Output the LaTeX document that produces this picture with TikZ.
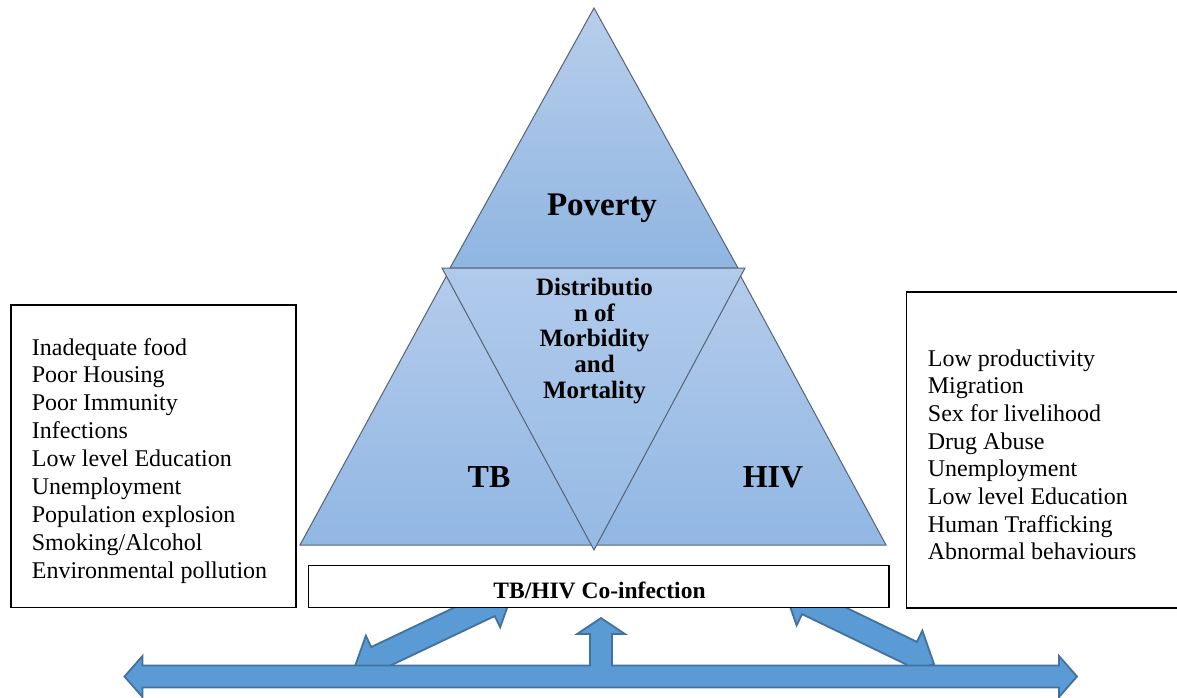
\documentclass[tikz,border=0pt]{standalone}
\usepackage{fontspec}
\setmainfont{Liberation Serif}
\usetikzlibrary{calc}
\definecolor{arrowfill}{RGB}{91,155,213}
\definecolor{arrowline}{RGB}{65,113,156}
\definecolor{triline}{RGB}{85,98,118}
\definecolor{povtop}{RGB}{184,206,235}
\definecolor{povbot}{RGB}{143,181,225}
\definecolor{sidetop}{RGB}{180,203,235}
\definecolor{sidebot}{RGB}{145,183,227}
\definecolor{midtop}{RGB}{176,202,235}
\definecolor{midbot}{RGB}{150,186,228}
\tikzset{
  tri/.style={draw=triline, line width=1pt, line join=miter},
  listbox/.style={draw=black, fill=white, line width=1.5pt},
  listtext/.style={anchor=base west, inner sep=0pt, font=\fontsize{24}{28}\selectfont},
  bigbold/.style={anchor=base, inner sep=0pt, font=\fontsize{32}{36}\selectfont\bfseries},
  midtext/.style={anchor=base, inner sep=0pt, font=\fontsize{25}{26}\selectfont\bfseries},
  blockarrowstyle/.style={draw=arrowline, fill=arrowfill, line width=1.8pt, line join=miter}
}
% double-headed block arrow between two named coordinates
\newcommand\blockarrow[2]{%
  \coordinate (#1-a) at ($(#1)!25pt!(#2)$);
  \coordinate (#1-b) at ($(#2)!25pt!(#1)$);
  \draw[blockarrowstyle]
    (#1) -- ($(#1-a)!25pt!90:(#2)$) -- ($(#1-a)!12.5pt!90:(#2)$)
    -- ($(#1-b)!12.5pt!-90:(#1)$) -- ($(#1-b)!25pt!-90:(#1)$) -- (#2)
    -- ($(#1-b)!25pt!90:(#1)$) -- ($(#1-b)!12.5pt!90:(#1)$)
    -- ($(#1-a)!12.5pt!-90:(#2)$) -- ($(#1-a)!25pt!-90:(#2)$) -- cycle;
}
\begin{document}
\begin{tikzpicture}[x=1pt, y=-1pt]
\useasboundingbox (0,0) rectangle (1177,697);

% ---- triangles ----
\coordinate (apex) at (594,8);
\coordinate (povL) at (450,268);
\coordinate (povR) at (738,268);
\coordinate (tbA) at (447,275);
\coordinate (tbL) at (300,545);
\coordinate (tbR) at (594,545);
\coordinate (hivA) at (740,275);
\coordinate (hivL) at (594,545);
\coordinate (hivR) at (886,545);
\coordinate (midL) at (442,268);
\coordinate (midR) at (745,268);
\coordinate (midB) at (594,550);

\path[tri, top color=povtop, bottom color=povbot] (apex) -- (povR) -- (povL) -- cycle;
\path[tri, top color=sidetop, bottom color=sidebot] (tbA) -- (tbR) -- (tbL) -- cycle;
\path[tri, top color=sidetop, bottom color=sidebot] (hivA) -- (hivR) -- (hivL) -- cycle;
\path[tri, top color=midtop, bottom color=midbot] (midL) -- (midR) -- (midB) -- cycle;

\node[bigbold, font=\fontsize{33}{36}\selectfont\bfseries] (poverty) at (602,215) {Poverty};
\node[bigbold] (tb) at (489,487.5) {TB};
\node[bigbold] (hiv) at (773,487.5) {HIV};

\node[midtext] (m1) at (594.5,295.7) {Distributio};
\node[midtext] (m2) at (594.5,321.3) {n of};
\node[midtext] (m3) at (594.5,346.9) {Morbidity};
\node[midtext] (m4) at (594.5,372.5) {and};
\node[midtext] (m5) at (594.5,398.1) {Mortality};

% ---- diagonal double arrows (behind the box) ----
\coordinate (dl1) at (354,669);
\coordinate (dl2) at (512,594);
\coordinate (dr1) at (785,592);
\coordinate (dr2) at (934,664);
\blockarrow{dl1}{dl2}
\blockarrow{dr1}{dr2}

% ---- boxes ----
\draw[listbox] (11,305) rectangle (296,607.5);
\draw[listbox] (906.5,292) rectangle (1190,608);
\draw[listbox] (308.5,565.5) rectangle (889,607.5);
\node[anchor=base, inner sep=0pt, font=\fontsize{23.5}{26}\selectfont\bfseries] (coinf) at (599.5,598) {TB/HIV Co-infection};

\foreach \t [count=\i from 0] in {Inadequate food, Poor Housing, Poor Immunity, Infections, Low level Education, Unemployment, Population explosion, Smoking/Alcohol, Environmental pollution}
  \node[listtext] (left\i) at (31.7,355+27.9*\i) {\t};

\foreach \t [count=\i from 0] in {Low productivity, Migration, Sex for livelihood, Drug Abuse, Unemployment, Low level Education, Human Trafficking, Abnormal behaviours}
  \node[listtext] (right\i) at (927.7,366+27.7*\i) {\t};

% ---- horizontal double arrow with upward branch ----
\draw[blockarrowstyle]
  (124.5,676.5) -- (142.5,656) -- (142.5,665.5) -- (590,665.5) -- (590,634) -- (577,634)
  -- (601,618) -- (625,634) -- (612,634) -- (612,665.5) -- (1059,665.5) -- (1059,656)
  -- (1077,676.5) -- (1059,697) -- (1059,687.5) -- (142.5,687.5) -- (142.5,697) -- cycle;
\end{tikzpicture}
\end{document}
